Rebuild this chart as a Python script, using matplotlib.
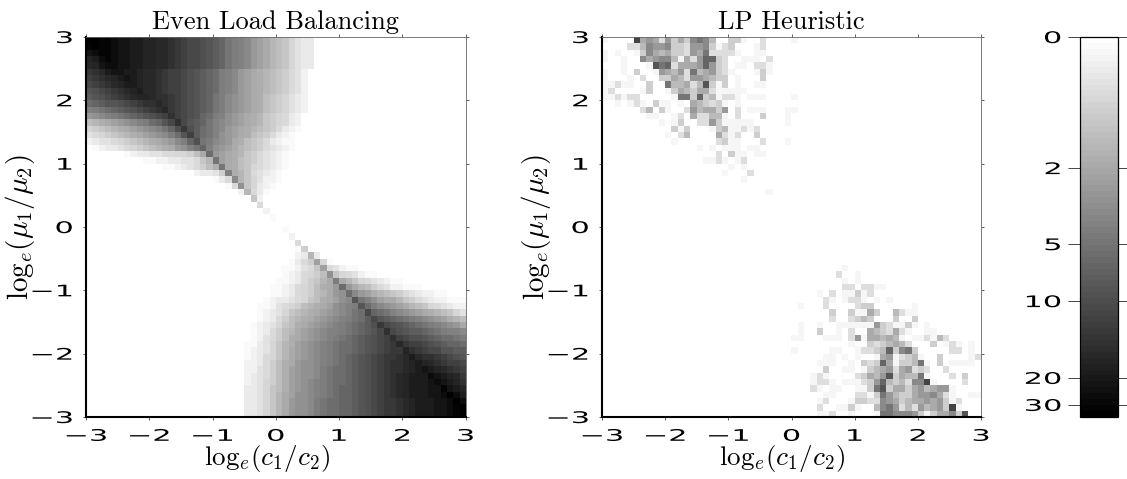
import numpy as np
import matplotlib
matplotlib.use('Agg')
import matplotlib.pyplot as plt
from matplotlib.colors import FuncNorm
from matplotlib.cm import ScalarMappable
from matplotlib.patheffects import AbstractPathEffect
from matplotlib.transforms import Affine2D

plt.rcParams['mathtext.fontset'] = 'cm'
plt.rcParams['font.family'] = ['DejaVu Sans']

# Even Load Balancing: base-36 gray level per cell, 0 = white, z = black.
# Top rows are left-aligned (padded with 0 on the right), bottom rows right-aligned.
EVEN_TOP = [
 "zzyyxwwvvuuttsrqpponmljihgedca986433",
 "yzyyxwwvvuuttsrqpponmljihgedca986433",
 "wxyyxwwvvuuttsrqpponmljihgedca986433",
 "uvxyxwwvvuuttsrqpponmljihgedca986433",
 "tuwxxwwvvuuttsrqpponmljihgedca986433",
 "rstvww" "vvuttsrqqponmlkihgedcba987542",
 "qrstuvw" "vuttsrqqponmlkihgedcba987542",
 "pqrstuvv" "uttsrqqponmlkihgedcba987542",
 "nopqrstuv" "ttsrqqponmlkihgedcba987542",
 "mnopqrstuu" "tssrqponmljigfedcb9876432",
 "klmnnopqrsst" "srqponmljigfedcb9876432",
 "hijklmnopqrst" "rqponmljigfedcb9876432",
 "efghijklmnopqs" "qponlkihfedcba87653 2".replace(" ", ""),
 "9abcdefghiklnps" "pnmljhgfedcba876532",
 "6789abcdefghjlor" "omkjhgedcba98753 21".replace(" ", ""),
 "456789abcdefgiknq" "mkjhfedcb9875321",
 "234456789abcdegilo" "jigfecb98753211",
 "01233456789abcefhjl" "hfedca98754321",
 "000000" "1233445566 79ck".replace(" ", "") + "edcba8754321",
 "000000000" "11223 34458a".replace(" ", "") + "j" "dcb98754321",
 "000000000000" "112345 79b".replace(" ", "") + "j" "cb98654321",
 "00000000000000000" "23347" "h" "ba854321",
 "00000000000000000000" "135" "g" "a864221",
 "0000000000000000000000" "15" "f" "86321",
 "000000000000000000000000" "2" "a" "531",
 "00000000000000000000000000" "8" "2",
 "000000000000000000000000000" "5",
 "0000000000000000000000000000" "2",
 "00000000000000000000000000000" "1",
 "",
]
EVEN_BOTTOM = [
 "0000001" + "0" * 28,
 "00000002" + "0" * 27,
 "000000005" + "0" * 26,
 "0000000017" + "0" * 25,
 "0000000023a3" + "0" * 23,
 "0000000" "1357" "d" "61" + "0" * 21,
 "000000112458" "d" "54211" + "0" * 17,
 "000000" "1235679" "f" "8654211" + "0" * 14,
 "00000" "112357 8ac".replace(" ", "") + "i" "ca86543211" + "0" * 10,
 "0000" "11235679bce" "k" "eca975422111" + "0" * 7,
 "0000" "11235679acef" "k" "gedba9875432211000",
 "000" "123345689bcdfg" "n" "jhfdcca8754322111",
 "00" "11245679abcdfghi" "n" "kigfedca98654322",
 "00" "1234689abcdefghjk" "p" "lkjhgfedcba9864",
 "00" "123579abcdefghijkm" "p" "nmlkjihgfedba9",
 "01234689bcdefghijklmo" "r" "ponmlkjihgfec",
 "0123579acdefghhijklmnp" "s" "ponmmlkjihhg",
 "0124579bcdefghijklmnopq" "s" "qpoonmlkkji",
 "113468abdefghijkklmnopqr" "t" "rqqponmllk",
 "123468acdefghijkklmnopqrr" "u" "srqppnnmm",
 "123568acdefghijklmnopqrrst" "v" "tssrqpon",
 "223579bceffghijklmnopqrsstu" "v" "utsrqqp",
 "224579bdeffgijkklmnopqrsstuv" "w" "vutsrq",
 "234579bdeffgijkklmnopqrstuvvv" "x" "wvutr",
 "234679bdefghijkklmnopqrstuvvvw" "x" "wvus",
 "334689bdefghijkllmnopqrstuvvvww" "y" "wvu",
 "33468acdffghijkllmnopqrstuvvvwwx" "z" "xv",
 "33468aceffgijkkllmnopqrrstuvvvwwx" "z" "x",
 "33468aceffgijkkllmnopqrrstuvvvwwxyz",
 "33468aceffgijkkllmnopqrrstuvvvwwxyz",
]

# LP Heuristic: hex gray level per cell, 0 = white, f = black.
LP_TOP = [
 "10000b5652635378740033100200001",
 "00002247667332667312300012",
 "10100137545332658222210011",
 "100100756774152699320011102",
 "00010001a892555696320110221",
 "100103001654628456321000131",
 "10001020033542665433010003",
 "1121100300844524a313010011",
 "12000013001354355211111",
 "1121220000018839341221011100001",
 "0010121031101054323101",
 "0000002403100264553602011100011",
 "000000011001205224410200030001",
 "000000000101300226311111000001",
 "0000000000031300013411212",
 "0000000000102400005212003",
 "000000000001000000231100020001",
 "0000000000000001010111011",
 "00000000000000000020311011",
 "00000000000000001121012",
 "00000000000000000000101",
 "000000000000000000010002",
 "00000000000000000000001",
 "",
 "000000000000000000000000001",
 "", "", "", "", "",
]
LP_BOTTOM = [
 "", "", "", "", "", "",
 "000000001",
 "00000002001",
 "00000000101",
 "000000002202211",
 "0000102011312",
 "000002101221010100000000000000",
 "010002000023300000010000000000",
 "000000300311530042110000000000",
 "000000200234300030030000000000",
 "010010011111163211310100000000",
 "010030010200543252100110000000",
 "110001110261554541011214200000",
 "000000000100323454200030121010",
 "100000110012234937830000022010",
 "000001101010015612341003000012",
 "000011100103239513348103011110",
 "000003001101345625623200200000",
 "000121000023546a35448100020300",
 "000122101112369434277b10000200",
 "00021011001138a355356456610000",
 "000001100022138643356675210011",
 "000012000133227653455656312000",
 "0000200113100478624264563b1000",
 "000011200100018877763135573a00",
]

TICKS = [-3, -2, -1, 0, 1, 2, 3]
CBAR_VALUES = [0, 2, 5, 10, 20, 30]
CBAR_SCALE_VALUES = [0, 2, 5, 10, 20, 30, 33]
CBAR_SCALE_FRACTIONS = [0, 0.345, 0.545, 0.695, 0.897, 0.968, 1]
TITLES = ["Even Load Balancing", "LP Heuristic"]
XLABEL = r"$\mathrm{log}_e(c_1/c_2)$"
YLABEL = r"$\mathrm{log}_e(\mu_1/\mu_2)$"


def fwd(v):
    return np.interp(v, CBAR_SCALE_VALUES, CBAR_SCALE_FRACTIONS)


def inv(f):
    return np.interp(f, CBAR_SCALE_FRACTIONS, CBAR_SCALE_VALUES)


def levels(rows, base):
    lev = np.array([[int(ch, 36) for ch in r] for r in rows], dtype=float) / base
    if base == 15:
        lev[lev == 1 / 15] = 0.04   # the faintest LP cells are nearly white
    return inv(lev)


even = levels([r.ljust(60, "0") for r in EVEN_TOP] +
              [r.rjust(60, "0") for r in EVEN_BOTTOM], 35)
lp = levels([r.ljust(60, "0") for r in LP_TOP] +
            [r.ljust(30, "0").rjust(60, "0") for r in LP_BOTTOM], 15)


class Stretch(AbstractPathEffect):
    """Widens a text's glyphs about its centre or its right edge."""

    def __init__(self, sx, anchor):
        super().__init__()
        self.sx, self.anchor = sx, anchor

    def draw_path(self, renderer, gc, tpath, affine, rgbFace=None):
        bb = tpath.get_extents(affine)
        cx = bb.x1 if self.anchor == "right" else 0.5 * (bb.x0 + bb.x1)
        aff = affine + Affine2D().translate(-cx, 0).scale(self.sx, 1).translate(cx, 0)
        renderer.draw_path(gc, tpath, aff, rgbFace)


W, H = 1127, 479
fig = plt.figure(figsize=(W / 100, H / 100), dpi=100)
norm = FuncNorm((fwd, inv), vmin=0, vmax=33)
cmap = plt.get_cmap("gray_r", 64)


def box(x0, x1, y0, y1):
    return [x0 / W, 1 - y1 / H, (x1 - x0) / W, (y1 - y0) / H]


TICK_FS = 11.5
SX = 1.9
for spec, data, title in zip([box(86, 465.5, 37, 417), box(602, 981, 37, 417)], [even, lp], TITLES):
    ax = fig.add_axes(spec)
    ax.imshow(data, cmap=cmap, norm=norm, extent=[-3, 3, -3, 3], origin="upper",
              interpolation="nearest", aspect="auto")
    ax.set_xticks(TICKS)
    ax.set_yticks(TICKS)
    ax.set_xticklabels([str(t).replace("-", "\u2212") for t in TICKS], fontsize=TICK_FS)
    ax.set_yticklabels([str(t).replace("-", "\u2212") for t in TICKS], fontsize=TICK_FS)
    ax.tick_params(direction="out", length=2.5, width=0.6, top=True, right=True, color="#444444")
    ax.tick_params(axis="x", pad=6)
    ax.tick_params(axis="y", pad=7)
    for lab in ax.get_xticklabels():
        lab.set_path_effects([Stretch(SX, "center")])
    for lab in ax.get_yticklabels():
        lab.set_path_effects([Stretch(SX, "right")])
    for s in ("top", "right"):
        ax.spines[s].set_linewidth(0.6)
        ax.spines[s].set_color("#666666")
    for s in ("left", "bottom"):
        ax.spines[s].set_linewidth(1.5)
        ax.spines[s].set_color("black")
    ax.set_title(title, family="cmr10", fontsize=19, pad=6)
    ax.set_xlabel(XLABEL, fontsize=19.5)
    ax.set_ylabel(YLABEL, fontsize=21)
    ax.xaxis.set_label_coords(0.476, -0.068)
    ax.yaxis.set_label_coords(-0.128, 0.5)

cax = fig.add_axes(box(1080, 1118, 37, 417))
cb = fig.colorbar(ScalarMappable(norm=norm, cmap=cmap), cax=cax, ticks=CBAR_VALUES)
cb.ax.invert_yaxis()
cb.ax.yaxis.set_ticks_position("both")
cb.ax.tick_params(axis="y", which="major", direction="out", length=8.5, width=0.7,
                  left=True, right=True, labelleft=True, labelright=False,
                  labelsize=TICK_FS, color="#444444", pad=5)
cb.ax.minorticks_off()
cb.ax.set_yticks(CBAR_VALUES)
cb.ax.set_yticklabels([str(v) for v in CBAR_VALUES])
for lab in cb.ax.get_yticklabels():
    lab.set_path_effects([Stretch(SX, "right")])
cb.outline.set_linewidth(0.9)

fig.savefig("out.png", dpi=100)
